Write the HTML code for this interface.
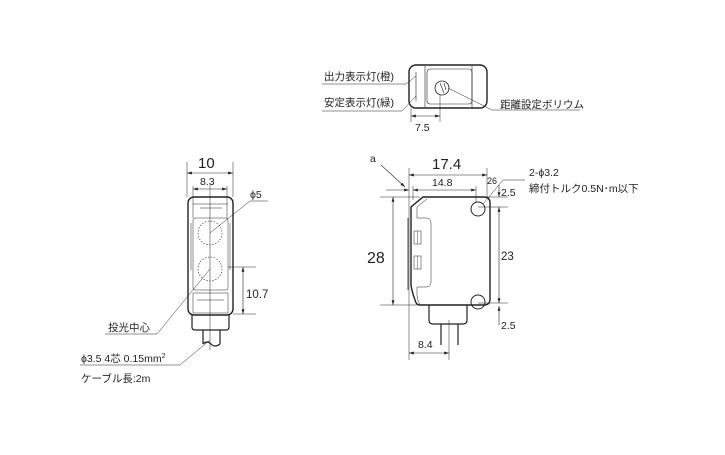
<!DOCTYPE html>
<html><head><meta charset="utf-8"><style>
body{margin:0;background:#fff}
text{font-family:"Liberation Sans","Noto Sans CJK JP",sans-serif;fill:#222}
</style></head><body>
<svg width="725" height="450" viewBox="0 0 725 450" xmlns="http://www.w3.org/2000/svg">
<defs><marker id="a" viewBox="0 0 10 6" refX="10" refY="3" markerWidth="8" markerHeight="5" orient="auto-start-reverse"><path d="M0,0L10,3L0,6z" fill="#222"/></marker></defs>
<g stroke="#222" fill="none" stroke-width="1">
<!-- top view -->
<rect x="409" y="65" width="78" height="43" rx="7" stroke-width="1.4"/>
<line x1="425" y1="66" x2="425" y2="107" stroke-width="0.6"/>
<line x1="472" y1="66" x2="472" y2="107" stroke-width="0.6"/>
<rect x="427" y="69" width="45" height="35" rx="3" stroke-width="0.6"/>
<line x1="416" y1="72" x2="416" y2="101" stroke-width="0.6"/>
<circle cx="442" cy="88" r="7" stroke-width="0.8"/>
<line x1="440" y1="83" x2="444" y2="93" stroke-width="0.6"/>
<line x1="444" y1="83" x2="446" y2="90" stroke-width="0.6"/>
<line x1="411" y1="108" x2="411" y2="122" stroke-width="0.5"/>
<line x1="440" y1="95" x2="440" y2="122" stroke-width="0.5"/>
<line x1="411" y1="116" x2="440" y2="116" stroke-width="0.6" marker-start="url(#a)" marker-end="url(#a)"/>
<polyline points="322,84 406,84 416,76" stroke-width="0.5"/>
<polyline points="322,111 402,111 416,96" stroke-width="0.5"/>
<polyline points="448,88 492,110 580,110" stroke-width="0.5"/>
<!-- left view -->
<rect x="188" y="197" width="45" height="118" rx="6" stroke-width="1.4"/>
<line x1="193" y1="204" x2="228" y2="204" stroke-width="0.5"/>
<line x1="200" y1="208" x2="222" y2="208" stroke-width="0.5"/>
<rect x="193" y="218" width="35" height="72" rx="2" stroke-width="0.5"/>
<line x1="191" y1="223" x2="191" y2="270" stroke-width="0.5"/>
<line x1="230" y1="223" x2="230" y2="270" stroke-width="0.5"/>
<circle cx="210" cy="233" r="12" stroke-width="0.6" stroke-dasharray="1.5,1.5"/>
<circle cx="210" cy="269" r="12" stroke-width="0.6" stroke-dasharray="1.5,1.5"/>
<rect x="193" y="293" width="35" height="20" stroke-width="0.5"/>
<line x1="197" y1="300" x2="224" y2="300" stroke-width="0.5"/>
<path d="M192,315 V327 Q192,330 195,330 H226 Q229,330 229,327 V315" stroke-width="1.2"/>
<path d="M203,330 V344 M220,330 V344 M203,344 Q207,340 211,344 Q215,348 220,344" stroke-width="1.2"/>
<line x1="210" y1="185" x2="210" y2="350" stroke-width="0.5"/>
<line x1="187" y1="162" x2="187" y2="197" stroke-width="0.5"/>
<line x1="233" y1="162" x2="233" y2="197" stroke-width="0.5"/>
<line x1="187" y1="173" x2="233" y2="173" stroke-width="0.6" marker-start="url(#a)" marker-end="url(#a)"/>
<line x1="193" y1="186" x2="193" y2="218" stroke-width="0.5"/>
<line x1="227" y1="186" x2="227" y2="218" stroke-width="0.5"/>
<line x1="193" y1="189" x2="227" y2="189" stroke-width="0.6" marker-start="url(#a)" marker-end="url(#a)"/>
<line x1="228" y1="267" x2="256" y2="267" stroke-width="0.5"/>
<line x1="233" y1="314" x2="256" y2="314" stroke-width="0.5"/>
<line x1="243" y1="267" x2="243" y2="314" stroke-width="0.6" marker-start="url(#a)" marker-end="url(#a)"/>
<polyline points="210,233 250,201 268,201" stroke-width="0.5"/>
<polyline points="210,269 157,334 105,334" stroke-width="0.5"/>
<polyline points="210,340 180,365 80,365" stroke-width="0.5"/>
<!-- right view -->
<path d="M423,197 H484 Q490,197 490,203 V299 Q490,305 484,305 H420 Q416,305 415,300 Q412,292 411,285 V207 Z" stroke-width="1.4"/>
<line x1="408" y1="218" x2="408" y2="290" stroke-width="0.8"/>
<path d="M427,199 L417,207 V218 H426 Q431,218 431,223 V282 Q431,287 426,287 H417 V296 Q418,302 420,304" stroke-width="0.5"/>
<rect x="414" y="231" width="7" height="13" stroke-width="0.5"/>
<line x1="417.5" y1="231" x2="417.5" y2="244" stroke-width="0.4"/>
<rect x="414" y="256" width="7" height="13" stroke-width="0.5"/>
<line x1="417.5" y1="256" x2="417.5" y2="269" stroke-width="0.4"/>
<circle cx="478" cy="209" r="7" stroke-width="1"/>
<circle cx="478" cy="302" r="7" stroke-width="1"/>
<path d="M429,305 V320 Q429,324 433,324 H463 Q467,324 467,320 V305" stroke-width="1.2"/>
<path d="M441,324 V345 M458,324 V345" stroke-width="1.2"/>
<line x1="449" y1="320" x2="449" y2="360" stroke-width="0.5"/>
<line x1="409" y1="168" x2="409" y2="360" stroke-width="0.5"/>
<line x1="487" y1="168" x2="487" y2="197" stroke-width="0.5"/>
<line x1="409" y1="175" x2="487" y2="175" stroke-width="0.6" marker-start="url(#a)" marker-end="url(#a)"/>
<line x1="413" y1="186" x2="413" y2="200" stroke-width="0.5"/>
<line x1="476" y1="186" x2="476" y2="202" stroke-width="0.5"/>
<line x1="386" y1="190" x2="409" y2="190" stroke-width="0.6" marker-end="url(#a)"/>
<line x1="413" y1="190" x2="476" y2="190" stroke-width="0.6" marker-start="url(#a)" marker-end="url(#a)"/>
<line x1="380" y1="197" x2="420" y2="197" stroke-width="0.5"/>
<line x1="380" y1="305" x2="420" y2="305" stroke-width="0.5"/>
<line x1="393" y1="197" x2="393" y2="305" stroke-width="0.6" marker-start="url(#a)" marker-end="url(#a)"/>
<line x1="483" y1="197" x2="508" y2="197" stroke-width="0.5"/>
<line x1="478" y1="207" x2="508" y2="207" stroke-width="0.5"/>
<line x1="478" y1="303" x2="508" y2="303" stroke-width="0.5"/>
<line x1="499" y1="207" x2="499" y2="303" stroke-width="0.6" marker-start="url(#a)" marker-end="url(#a)"/>
<line x1="499" y1="185" x2="499" y2="197" stroke-width="0.6" marker-end="url(#a)"/>
<line x1="499" y1="325" x2="499" y2="306" stroke-width="0.6" marker-end="url(#a)"/>
<line x1="409" y1="353" x2="449" y2="353" stroke-width="0.6" marker-start="url(#a)" marker-end="url(#a)"/>
<line x1="381" y1="165" x2="405" y2="187" stroke-width="0.6" marker-end="url(#a)"/>
<polyline points="483,204 503,180 525,180" stroke-width="0.5"/>
</g>
<g font-size="10.5">
<text x="324" y="80">出力表示灯(橙)</text>
<text x="324" y="106">安定表示灯(緑)</text>
<text x="500" y="108">距離設定ボリウム</text>
<text x="415" y="131">7.5</text>
<text x="198" y="168" font-size="15">10</text>
<text x="200" y="185">8.3</text>
<text x="250" y="198">ϕ5</text>
<text x="246" y="298" font-size="11.5">10.7</text>
<text x="108" y="331">投光中心</text>
<text x="81" y="362">ϕ3.5  4芯 0.15mm<tspan font-size="7" dy="-4">2</tspan></text>
<text x="81" y="382">ケーブル長:2m</text>
<text x="370" y="162">a</text>
<text x="432" y="169" font-size="15">17.4</text>
<text x="432" y="186">14.8</text>
<text x="487" y="184" font-size="9">26</text>
<text x="501" y="196">2.5</text>
<text x="529" y="176">2-ϕ3.2</text>
<text x="529" y="192">締付トルク0.5N･m以下</text>
<text x="367" y="263" font-size="16">28</text>
<text x="501" y="260" font-size="11.5">23</text>
<text x="501" y="329">2.5</text>
<text x="418" y="348">8.4</text>
</g>
</svg>
</body></html>
